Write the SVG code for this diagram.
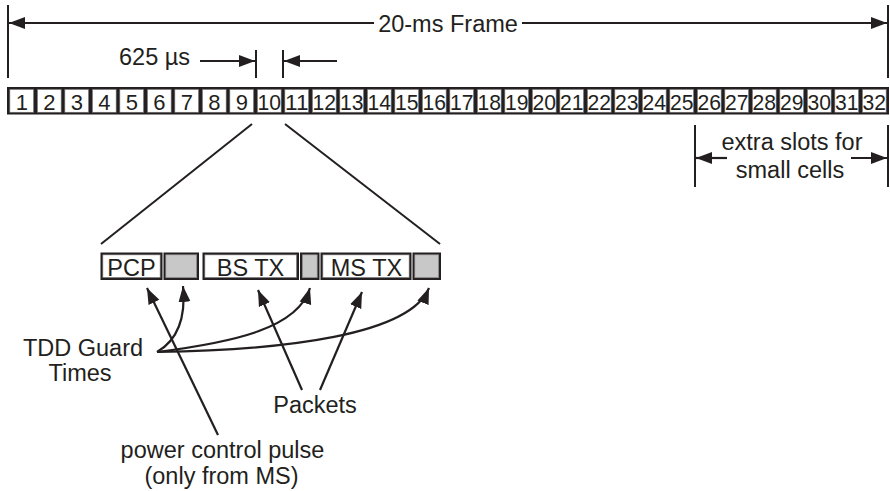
<svg xmlns="http://www.w3.org/2000/svg" width="890" height="491" viewBox="0 0 890 491">
<defs>
<marker id="ah" markerUnits="userSpaceOnUse" markerWidth="17" markerHeight="13" refX="16" refY="6.5" orient="auto-start-reverse">
<path d="M0,0.5 L16,6.5 L0,12.5 z" fill="#231f20"/>
</marker>
<style>
text{font-family:"Liberation Sans",Arial,sans-serif;fill:#231f20}
.lbl{font-size:23.5px}
.num{font-size:22px;text-anchor:middle}
.ln{stroke:#231f20;stroke-width:2;fill:none}
.arr{stroke:#231f20;stroke-width:2.2;fill:none;marker-end:url(#ah)}
.slot{fill:#fff;stroke:#666;stroke-width:0.7}
.gslot{fill:#c8c8c8;stroke:#888;stroke-width:0.7}
</style>
</defs>
<rect width="890" height="491" fill="#fff"/>
<g id="frame-row">
<rect x="7" y="87" width="882" height="27.5" fill="#231f20"/>
<g id="slots">
<rect class="slot" x="9.8" y="89.3" width="23.9" height="23"/><text class="num" x="21.75" y="109.5">1</text>
<rect class="slot" x="37.3" y="89.3" width="23.9" height="23"/><text class="num" x="49.25" y="109.5">2</text>
<rect class="slot" x="64.8" y="89.3" width="23.9" height="23"/><text class="num" x="76.75" y="109.5">3</text>
<rect class="slot" x="92.3" y="89.3" width="23.9" height="23"/><text class="num" x="104.25" y="109.5">4</text>
<rect class="slot" x="119.8" y="89.3" width="23.9" height="23"/><text class="num" x="131.75" y="109.5">5</text>
<rect class="slot" x="147.3" y="89.3" width="23.9" height="23"/><text class="num" x="159.25" y="109.5">6</text>
<rect class="slot" x="174.8" y="89.3" width="23.9" height="23"/><text class="num" x="186.75" y="109.5">7</text>
<rect class="slot" x="202.3" y="89.3" width="23.9" height="23"/><text class="num" x="214.25" y="109.5">8</text>
<rect class="slot" x="229.8" y="89.3" width="23.9" height="23"/><text class="num" x="241.75" y="109.5">9</text>
<rect class="slot" x="257.3" y="89.3" width="23.9" height="23"/><text class="num" x="269.25" y="109.5" textLength="23.5" lengthAdjust="spacingAndGlyphs">10</text>
<rect class="slot" x="284.8" y="89.3" width="23.9" height="23"/><text class="num" x="296.75" y="109.5" textLength="23.5" lengthAdjust="spacingAndGlyphs">11</text>
<rect class="slot" x="312.3" y="89.3" width="23.9" height="23"/><text class="num" x="324.25" y="109.5" textLength="23.5" lengthAdjust="spacingAndGlyphs">12</text>
<rect class="slot" x="339.8" y="89.3" width="23.9" height="23"/><text class="num" x="351.75" y="109.5" textLength="23.5" lengthAdjust="spacingAndGlyphs">13</text>
<rect class="slot" x="367.3" y="89.3" width="23.9" height="23"/><text class="num" x="379.25" y="109.5" textLength="23.5" lengthAdjust="spacingAndGlyphs">14</text>
<rect class="slot" x="394.8" y="89.3" width="23.9" height="23"/><text class="num" x="406.75" y="109.5" textLength="23.5" lengthAdjust="spacingAndGlyphs">15</text>
<rect class="slot" x="422.3" y="89.3" width="23.9" height="23"/><text class="num" x="434.25" y="109.5" textLength="23.5" lengthAdjust="spacingAndGlyphs">16</text>
<rect class="slot" x="449.8" y="89.3" width="23.9" height="23"/><text class="num" x="461.75" y="109.5" textLength="23.5" lengthAdjust="spacingAndGlyphs">17</text>
<rect class="slot" x="477.3" y="89.3" width="23.9" height="23"/><text class="num" x="489.25" y="109.5" textLength="23.5" lengthAdjust="spacingAndGlyphs">18</text>
<rect class="slot" x="504.8" y="89.3" width="23.9" height="23"/><text class="num" x="516.75" y="109.5" textLength="23.5" lengthAdjust="spacingAndGlyphs">19</text>
<rect class="slot" x="532.3" y="89.3" width="23.9" height="23"/><text class="num" x="544.25" y="109.5" textLength="23.5" lengthAdjust="spacingAndGlyphs">20</text>
<rect class="slot" x="559.8" y="89.3" width="23.9" height="23"/><text class="num" x="571.75" y="109.5" textLength="23.5" lengthAdjust="spacingAndGlyphs">21</text>
<rect class="slot" x="587.3" y="89.3" width="23.9" height="23"/><text class="num" x="599.25" y="109.5" textLength="23.5" lengthAdjust="spacingAndGlyphs">22</text>
<rect class="slot" x="614.8" y="89.3" width="23.9" height="23"/><text class="num" x="626.75" y="109.5" textLength="23.5" lengthAdjust="spacingAndGlyphs">23</text>
<rect class="slot" x="642.3" y="89.3" width="23.9" height="23"/><text class="num" x="654.25" y="109.5" textLength="23.5" lengthAdjust="spacingAndGlyphs">24</text>
<rect class="slot" x="669.8" y="89.3" width="23.9" height="23"/><text class="num" x="681.75" y="109.5" textLength="23.5" lengthAdjust="spacingAndGlyphs">25</text>
<rect class="slot" x="697.3" y="89.3" width="23.9" height="23"/><text class="num" x="709.25" y="109.5" textLength="23.5" lengthAdjust="spacingAndGlyphs">26</text>
<rect class="slot" x="724.8" y="89.3" width="23.9" height="23"/><text class="num" x="736.75" y="109.5" textLength="23.5" lengthAdjust="spacingAndGlyphs">27</text>
<rect class="slot" x="752.3" y="89.3" width="23.9" height="23"/><text class="num" x="764.25" y="109.5" textLength="23.5" lengthAdjust="spacingAndGlyphs">28</text>
<rect class="slot" x="779.8" y="89.3" width="23.9" height="23"/><text class="num" x="791.75" y="109.5" textLength="23.5" lengthAdjust="spacingAndGlyphs">29</text>
<rect class="slot" x="807.3" y="89.3" width="23.9" height="23"/><text class="num" x="819.25" y="109.5" textLength="23.5" lengthAdjust="spacingAndGlyphs">30</text>
<rect class="slot" x="834.8" y="89.3" width="23.9" height="23"/><text class="num" x="846.75" y="109.5" textLength="23.5" lengthAdjust="spacingAndGlyphs">31</text>
<rect class="slot" x="862.3" y="89.3" width="23.9" height="23"/><text class="num" x="874.25" y="109.5" textLength="23.5" lengthAdjust="spacingAndGlyphs">32</text>
</g>
</g>
<g id="burst">
<g id="pcp"><rect x="100.5" y="252.5" width="62" height="27.5" fill="#231f20"/><rect class="slot" x="102.8" y="254.8" width="57.4" height="22.9"/><text class="lbl" x="131.5" y="276" text-anchor="middle">PCP</text></g>
<g id="guard1"><rect x="163.5" y="252.5" width="35.5" height="27.5" fill="#231f20"/><rect class="gslot" x="165.8" y="254.8" width="30.9" height="22.9"/></g>
<g id="bstx"><rect x="202.5" y="252.5" width="96.5" height="27.5" fill="#231f20"/><rect class="slot" x="204.8" y="254.8" width="91.9" height="22.9"/><text class="lbl" x="250.5" y="276" text-anchor="middle">BS TX</text></g>
<g id="guard2"><rect x="300" y="252.5" width="19.5" height="27.5" fill="#231f20"/><rect class="gslot" x="302.3" y="254.8" width="14.9" height="22.9"/></g>
<g id="mstx"><rect x="320.5" y="252.5" width="91" height="27.5" fill="#231f20"/><rect class="slot" x="322.8" y="254.8" width="86.4" height="22.9"/><text class="lbl" x="366.5" y="276" text-anchor="middle">MS TX</text></g>
<g id="guard3"><rect x="412.5" y="252.5" width="28.5" height="27.5" fill="#231f20"/><rect class="gslot" x="414.8" y="254.8" width="23.9" height="22.9"/></g>
</g>
<g id="labels">
<text class="lbl" x="448" y="32" text-anchor="middle">20-ms Frame</text>
<text class="lbl" x="119" y="65">625 µs</text>
<text class="lbl" x="792" y="150" text-anchor="middle">extra slots for</text>
<text class="lbl" x="790" y="178" text-anchor="middle">small cells</text>
<text class="lbl" x="83" y="355.5" text-anchor="middle">TDD Guard</text>
<text class="lbl" x="80" y="381" text-anchor="middle">Times</text>
<text class="lbl" x="315" y="413" text-anchor="middle">Packets</text>
<text class="lbl" x="222.5" y="458" text-anchor="middle">power control pulse</text>
<text class="lbl" x="221.5" y="484" text-anchor="middle">(only from MS)</text>
</g>
<g id="connectors">
<line class="ln" x1="8" y1="5" x2="8" y2="78"/>
<line class="ln" x1="888" y1="5" x2="888" y2="78"/>
<line class="arr" x1="374" y1="23" x2="9" y2="23"/>
<line class="arr" x1="522" y1="23" x2="887" y2="23"/>
<line class="ln" x1="256" y1="50" x2="256" y2="78"/>
<line class="ln" x1="283" y1="50" x2="283" y2="78"/>
<line class="arr" x1="200" y1="61" x2="255" y2="61"/>
<line class="arr" x1="337" y1="61" x2="284" y2="61"/>
<line class="ln" x1="695" y1="125" x2="695" y2="187"/>
<line class="ln" x1="888" y1="125" x2="888" y2="187"/>
<line class="arr" x1="727" y1="158" x2="696" y2="158"/>
<line class="arr" x1="851" y1="158" x2="887" y2="158"/>
<line class="ln" x1="252" y1="124" x2="101" y2="244"/>
<line class="ln" x1="285" y1="124" x2="440" y2="244"/>
<path class="arr" d="M157,352 C178,340 186,318 183,286"/>
<path class="arr" d="M157,352 C235,342 298,328 310,288"/>
<path class="arr" d="M157,352 C285,350 410,335 429,288"/>
<line class="arr" x1="218" y1="435" x2="147" y2="288"/>
<line class="arr" x1="302" y1="390" x2="258" y2="290"/>
<line class="arr" x1="320" y1="390" x2="362" y2="292"/>
</g>
</svg>
